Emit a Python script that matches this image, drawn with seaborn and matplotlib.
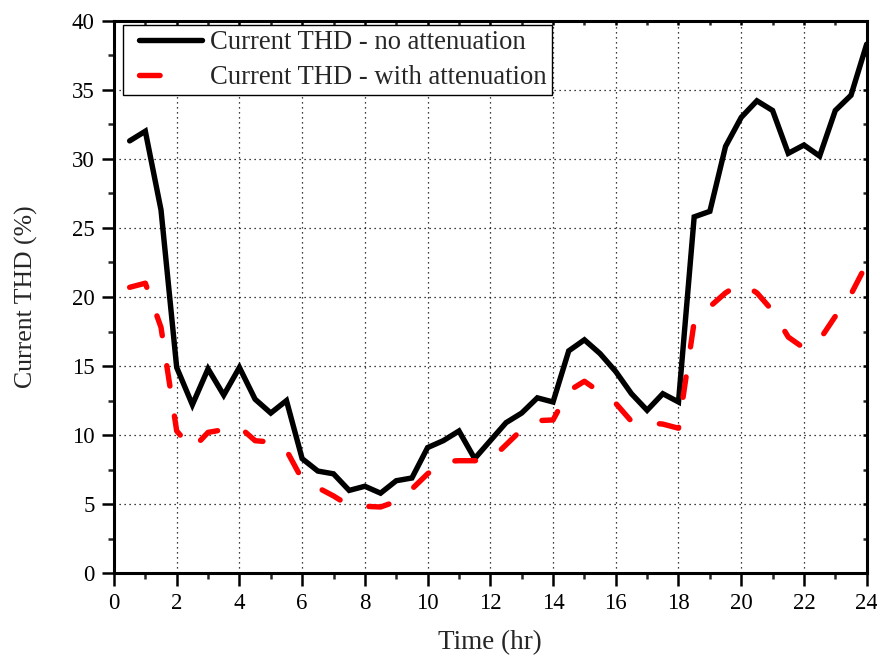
import numpy as np
import pandas as pd
import matplotlib
matplotlib.use("Agg")
import matplotlib.pyplot as plt
from matplotlib.lines import Line2D
from matplotlib.legend_handler import HandlerLine2D
from matplotlib.ticker import MultipleLocator
import seaborn as sns

# Hourly profile sampled every half hour
hours = [0.5, 1.0, 1.5, 2.0, 2.5, 3.0, 3.5, 4.0, 4.5, 5.0, 5.5, 6.0,
         6.5, 7.0, 7.5, 8.0, 8.5, 9.0, 9.5, 10.0, 10.5, 11.0, 11.5, 12.0,
         12.5, 13.0, 13.5, 14.0, 14.5, 15.0, 15.5, 16.0, 16.5, 17.0, 17.5, 18.0,
         18.5, 19.0, 19.5, 20.0, 20.5, 21.0, 21.5, 22.0, 22.5, 23.0, 23.5, 24.0]

thd_no_att = [31.3, 32.0, 26.3, 14.9, 12.2, 14.8, 12.9, 14.9, 12.6, 11.6, 12.5, 8.3,
              7.4, 7.2, 6.0, 6.3, 5.8, 6.7, 6.9, 9.1, 9.6, 10.3, 8.3, 9.6,
              10.9, 11.6, 12.7, 12.4, 16.1, 16.9, 15.9, 14.6, 13.0, 11.8, 13.0, 12.4,
              25.8, 26.2, 30.9, 33.0, 34.2, 33.5, 30.4, 31.0, 30.2, 33.5, 34.6, 38.3]

thd_with_att = [20.7, 21.0, 17.8, 10.3, 9.0, 10.2, 10.4, 10.6, 9.6, 9.5, 8.9, 6.8,
                6.2, 5.6, 4.9, 4.85, 4.8, 5.2, 6.1, 7.2, 8.1, 8.15, 8.15, 8.2,
                9.3, 10.4, 11.05, 11.1, 13.2, 13.9, 13.1, 12.3, 11.0, 10.9, 10.8, 10.5,
                18.2, 19.3, 20.3, 21.0, 20.3, 19.0, 17.1, 16.3, 16.9, 18.6, 20.2, 22.4]

label_no = "Current THD - no attenuation"
label_with = "Current THD - with attenuation"

df = pd.DataFrame({"Time": hours, "no": thd_no_att, "with": thd_with_att})

sns.set_theme(style="ticks")
plt.rcParams["font.family"] = ["Liberation Serif", "DejaVu Serif"]


class IndentedLineHandler(HandlerLine2D):
    """Legend line handler that starts the sample line a little to the right."""

    def __init__(self, indent=7.0, **kw):
        super().__init__(**kw)
        self.indent = indent

    def create_artists(self, legend, orig_handle, xdescent, ydescent,
                       width, height, fontsize, trans):
        artists = super().create_artists(legend, orig_handle, xdescent, ydescent,
                                         width, height, fontsize, trans)
        for a in artists:
            xd = np.asarray(a.get_xdata(), dtype=float)
            if xd.size >= 2:
                xd[0] = xd[0] + self.indent
                a.set_xdata(xd)
        return artists


fig = plt.figure(figsize=(8.78, 6.57), dpi=100)
ax = fig.add_axes([0.1298, 0.1274, 0.8573, 0.8411])

lw = 3.9
sns.lineplot(data=df, x="Time", y="no", ax=ax, color="black", linewidth=lw,
             solid_capstyle="round", solid_joinstyle="miter", zorder=3)
sns.lineplot(data=df, x="Time", y="with", ax=ax, color="#ff0000", linewidth=lw,
             zorder=3)
red_line = ax.get_lines()[-1]
red_line.set_dashes((3.8, 5.6))
red_line.set_dash_capstyle("round")

ax.set_xlim(0, 24)
ax.set_ylim(0, 40)
ax.xaxis.set_major_locator(MultipleLocator(2))
ax.xaxis.set_minor_locator(MultipleLocator(1))
ax.yaxis.set_major_locator(MultipleLocator(5))
ax.yaxis.set_minor_locator(MultipleLocator(2.5))

ax.grid(True, which="major", color="black", linestyle=(0, (1, 3)), linewidth=0.9)
ax.set_axisbelow(True)

for s in ax.spines.values():
    s.set_linewidth(2.2)
    s.set_color("black")

ax.tick_params(axis="both", which="major", direction="out", length=9, width=1.8,
               labelsize=16.5, colors="black", pad=5)
ax.tick_params(axis="both", which="minor", direction="out", length=4.5, width=1.8)
ax.tick_params(top=True, right=True, which="both")
# mirrored ticks on top and right point inward
for tk in ax.xaxis.get_major_ticks() + ax.xaxis.get_minor_ticks():
    tk.tick2line.set_marker(matplotlib.lines.TICKDOWN)
    tk.tick2line.set_markersize(3)
for tk in ax.yaxis.get_major_ticks() + ax.yaxis.get_minor_ticks():
    tk.tick2line.set_marker(matplotlib.lines.TICKLEFT)
    tk.tick2line.set_markersize(3)

ax.set_xlabel("Time (hr)", fontsize=19.5, labelpad=12)
ax.set_ylabel("Current THD (%)", fontsize=18.5, labelpad=24)

h_no = Line2D([], [], color="black", linewidth=lw, solid_capstyle="round")
h_with = Line2D([], [], color="#ff0000", linewidth=lw, dashes=(3.8, 20),
                dash_capstyle="round")
leg = ax.legend([h_no, h_with], [label_no, label_with], loc="upper left",
                bbox_to_anchor=(0.012, 0.992), fontsize=19.2, frameon=True,
                fancybox=False, edgecolor="black", framealpha=1,
                handlelength=2.75, handletextpad=0.3, borderpad=0.2,
                labelspacing=0.36, borderaxespad=0.0,
                handler_map={Line2D: IndentedLineHandler(indent=7.5)})
leg.get_frame().set_linewidth(1.0)

fig.savefig("out.png", dpi=100)
